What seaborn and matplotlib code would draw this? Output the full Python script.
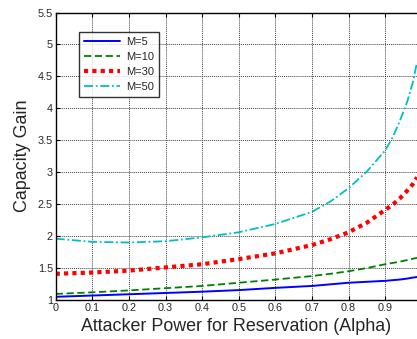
import matplotlib
matplotlib.use("Agg")
import matplotlib.pyplot as plt
import seaborn as sns
import pandas as pd

# Capacity gain vs. attacker power for several values of M
alpha = [0, 0.1, 0.2, 0.3, 0.4, 0.5, 0.6, 0.7, 0.75, 0.8, 0.85, 0.9, 0.92, 0.94, 0.96, 0.975, 0.987]
gain_m5 = [1.05, 1.07, 1.09, 1.11, 1.13, 1.155, 1.19, 1.22, 1.245, 1.27, 1.285, 1.30, 1.31, 1.32, 1.335, 1.35, 1.36]
gain_m10 = [1.095, 1.12, 1.15, 1.185, 1.22, 1.27, 1.32, 1.375, 1.41, 1.45, 1.50, 1.56, 1.58, 1.60, 1.625, 1.645, 1.66]
gain_m30 = [1.41, 1.43, 1.46, 1.51, 1.56, 1.64, 1.73, 1.86, 1.95, 2.06, 2.21, 2.41, 2.49, 2.59, 2.71, 2.81, 2.92]
gain_m50 = [1.96, 1.91, 1.90, 1.92, 1.98, 2.06, 2.19, 2.38, 2.54, 2.75, 3.01, 3.34, 3.54, 3.80, 4.10, 4.39, 4.72]

series_labels = ["M=5", "M=10", "M=30", "M=50"]
x_ticks = [0, 0.1, 0.2, 0.3, 0.4, 0.5, 0.6, 0.7, 0.8, 0.9]
y_ticks = [1, 1.5, 2, 2.5, 3, 3.5, 4, 4.5, 5, 5.5]

frames = []
for lab, vals in zip(series_labels, [gain_m5, gain_m10, gain_m30, gain_m50]):
    frames.append(pd.DataFrame({"alpha": alpha, "gain": vals, "M": lab}))
df = pd.concat(frames, ignore_index=True)

sns.set_style("white")
plt.rcParams["font.family"] = ["Liberation Sans", "DejaVu Sans"]

fig = plt.figure(figsize=(4.17, 3.39), dpi=100)
ax = fig.add_axes([55.7 / 417, 1 - 300 / 339, 1 - 55.7 / 417, (300 - 12.5) / 339])

styles = {
    "M=5": dict(color="#0000ff", linestyle="-", linewidth=1.4),
    "M=10": dict(color="#008000", linestyle=(0, (4, 2)), linewidth=1.3),
    "M=30": dict(color="#ff0000", linestyle=(0, (1, 1)), linewidth=3.0),
    "M=50": dict(color="#00bfbf", linestyle=(0, (5, 1.5, 1, 1.5)), linewidth=1.3),
}
for lab in series_labels:
    sub = df[df["M"] == lab]
    sns.lineplot(data=sub, x="alpha", y="gain", ax=ax, label=lab, **styles[lab])

ax.set_xlim(0, 0.987)
ax.set_ylim(1, 5.5)
ax.set_xticks(x_ticks)
ax.set_xticklabels([f"{t:g}" for t in x_ticks])
ax.set_yticks(y_ticks)
ax.set_yticklabels([f"{t:g}" for t in y_ticks])
ax.tick_params(axis="both", direction="in", length=3, labelsize=7.8, pad=2,
               top=True, bottom=True, left=True, right=False, color="black")
ax.grid(True, color="#444444", linestyle=(0, (1, 1)), linewidth=0.7)
for side in ["left", "bottom", "top"]:
    ax.spines[side].set_color("black")
    ax.spines[side].set_linewidth(1.0)
ax.spines["right"].set_visible(False)

ax.set_xlabel("Attacker Power for Reservation (Alpha)", fontsize=12.9, labelpad=4)
ax.set_ylabel("Capacity Gain", fontsize=12.9, labelpad=5)

leg = ax.legend(loc="upper left", bbox_to_anchor=((79 - 55.7) / 361.3, 1 - (32 - 12.5) / 287.5),
                borderaxespad=0, fontsize=8, frameon=True, fancybox=False, edgecolor="black",
                handlelength=3.2, borderpad=0.45, labelspacing=0.45, handletextpad=0.6)
leg.get_frame().set_linewidth(1.0)

fig.savefig("out.png", dpi=100)
